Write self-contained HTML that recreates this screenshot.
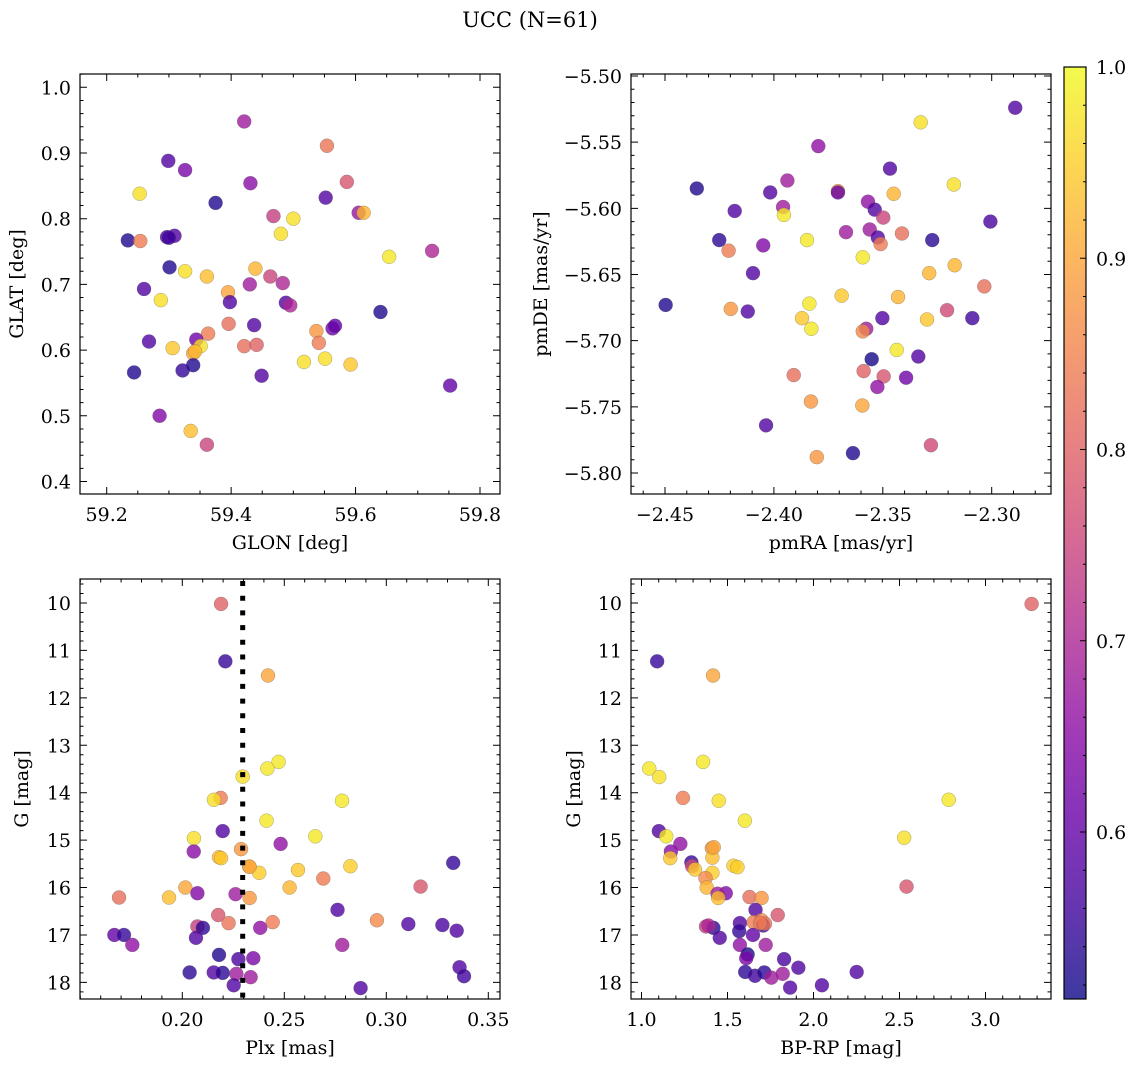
<!DOCTYPE html>
<html><head><meta charset="utf-8"><title>UCC (N=61)</title>
<style>
html,body{margin:0;padding:0;background:#fff;}
svg{display:block;font-family:"DejaVu Serif","Liberation Serif",serif;}
</style></head>
<body>
<svg id="chart" width="1136" height="1067" viewBox="0 0 1136 1067" xmlns="http://www.w3.org/2000/svg">
<text x="530" y="27" font-size="21" text-anchor="middle" fill="#000">UCC (N=61)</text>
</svg>
<script>
// ---- data: panel 1 (GLON vs GLAT)
const glon = [59.421,59.554,59.299,59.326,59.431,59.586,59.253,59.375,59.552,59.605,59.613,59.468,59.500,59.480,59.234,59.254,59.297,59.309,59.654,59.723,59.301,59.326,59.361,59.439,59.463,59.430,59.483,59.260,59.287,59.395,59.398,59.488,59.495,59.640,59.396,59.437,59.537,59.541,59.563,59.567,59.268,59.363,59.344,59.306,59.339,59.351,59.421,59.441,59.517,59.551,59.592,59.244,59.322,59.339,59.449,59.752,59.285,59.335,59.361,59.300,59.342];
const glat = [0.948,0.911,0.888,0.874,0.854,0.856,0.838,0.824,0.832,0.809,0.809,0.804,0.800,0.777,0.767,0.766,0.772,0.774,0.742,0.751,0.726,0.720,0.712,0.724,0.712,0.700,0.702,0.693,0.676,0.688,0.673,0.672,0.668,0.658,0.640,0.638,0.629,0.611,0.633,0.637,0.613,0.625,0.616,0.603,0.595,0.606,0.606,0.608,0.582,0.587,0.578,0.566,0.569,0.577,0.561,0.546,0.500,0.477,0.456,0.771,0.598];
const probTL = [.68,.83,.58,.63,.65,.78,.97,.53,.58,.67,.92,.74,.97,.97,.53,.84,.58,.58,.98,.70,.53,.97,.93,.92,.75,.68,.70,.58,.97,.90,.58,.58,.70,.53,.82,.58,.88,.84,.62,.60,.58,.84,.62,.94,.90,.97,.82,.80,.97,.97,.94,.53,.55,.53,.58,.60,.64,.93,.75,.56,.92];
// ---- data: panel 2 (pmRA vs pmDE)
const pmra = [-2.2892,-2.3326,-2.3796,-2.3467,-2.4354,-2.3938,-2.4017,-2.3706,-2.3450,-2.3174,-2.4180,-2.3958,-2.3954,-2.3568,-2.3537,-2.3498,-2.3006,-2.4251,-2.4208,-2.4049,-2.3848,-2.3669,-2.3560,-2.3523,-2.3510,-2.3412,-2.3273,-2.3592,-2.4096,-2.3287,-2.3170,-2.3034,-2.4497,-2.4198,-2.4120,-2.3837,-2.3689,-2.3430,-2.3871,-2.3828,-2.3576,-2.3592,-2.3502,-2.3297,-2.3205,-2.3089,-2.3436,-2.3551,-2.3337,-2.3909,-2.3588,-2.3496,-2.3525,-2.3393,-2.3830,-2.3594,-2.4036,-2.3803,-2.3637,-2.3279,-2.3706];
const pmde = [-5.524,-5.535,-5.553,-5.570,-5.585,-5.579,-5.588,-5.587,-5.589,-5.582,-5.602,-5.599,-5.605,-5.595,-5.601,-5.607,-5.610,-5.624,-5.632,-5.628,-5.624,-5.618,-5.616,-5.622,-5.627,-5.619,-5.624,-5.637,-5.649,-5.649,-5.643,-5.659,-5.673,-5.676,-5.678,-5.672,-5.666,-5.667,-5.683,-5.691,-5.691,-5.693,-5.683,-5.684,-5.677,-5.683,-5.707,-5.714,-5.712,-5.726,-5.723,-5.727,-5.735,-5.728,-5.746,-5.749,-5.764,-5.788,-5.785,-5.779,-5.588];
const probTR = [.58,.97,.66,.58,.53,.68,.58,.88,.92,.97,.58,.68,.98,.66,.58,.75,.57,.54,.84,.64,.98,.68,.68,.58,.84,.82,.54,.98,.58,.92,.92,.82,.53,.88,.58,.98,.94,.92,.94,.98,.68,.86,.58,.94,.76,.56,.98,.52,.58,.82,.80,.78,.66,.62,.88,.90,.58,.88,.53,.76,.60];
// ---- data: panel 3 (Plx vs G)
const plx = [0.2190,0.2211,0.2420,0.2472,0.2417,0.2296,0.2188,0.2155,0.2783,0.2413,0.2198,0.2057,0.2652,0.2482,0.2288,0.2056,0.2180,0.2190,0.2328,0.2377,0.2567,0.2824,0.3328,0.2691,0.2015,0.2526,0.3168,0.1690,0.1935,0.2074,0.2261,0.2330,0.2761,0.2176,0.2227,0.2443,0.2954,0.3108,0.3275,0.3345,0.2074,0.2101,0.2382,0.1667,0.1714,0.2067,0.1755,0.2784,0.2180,0.2275,0.2348,0.3359,0.3381,0.2036,0.2154,0.2198,0.2265,0.2335,0.2252,0.2874,0.2330];
const gmagL = [10.02,11.23,11.53,13.35,13.49,13.66,14.11,14.15,14.17,14.59,14.81,14.96,14.92,15.08,15.19,15.24,15.36,15.38,15.56,15.69,15.63,15.55,15.48,15.81,16.00,16.00,15.98,16.21,16.21,16.12,16.14,16.22,16.47,16.58,16.75,16.73,16.69,16.77,16.79,16.91,16.82,16.85,16.85,17.00,17.00,17.06,17.21,17.21,17.42,17.51,17.49,17.68,17.87,17.79,17.79,17.80,17.82,17.89,18.06,18.12,15.56];
const probBL = [.80,.55,.90,.98,.98,.97,.84,.97,.98,.98,.58,.97,.98,.66,.88,.65,.93,.94,.92,.95,.94,.95,.55,.84,.90,.92,.78,.82,.93,.64,.68,.88,.58,.78,.83,.84,.86,.58,.57,.58,.74,.54,.66,.60,.55,.58,.66,.68,.53,.57,.63,.58,.56,.54,.58,.54,.68,.68,.58,.58,.90];
const plxLine = [0.2296];
// ---- data: panel 4 (BP-RP vs G)
const bprp = [3.268,1.091,1.416,1.358,1.045,1.103,1.241,1.449,2.786,1.601,1.101,1.144,2.527,1.226,1.409,1.171,1.412,1.167,1.290,1.294,1.311,1.535,1.558,1.412,1.372,1.379,2.541,1.490,1.442,1.446,1.628,1.698,1.663,1.792,1.572,1.652,1.698,1.708,1.718,1.375,1.418,1.389,1.568,1.455,1.648,1.572,1.722,1.617,1.609,1.829,1.912,2.251,1.603,1.660,1.714,1.755,1.821,1.864,2.049,1.690,1.420];
const gmagR = [10.02,11.23,11.53,13.35,13.49,13.67,14.11,14.17,14.15,14.59,14.81,14.92,14.95,15.08,15.17,15.24,15.37,15.38,15.47,15.55,15.62,15.54,15.57,15.69,15.80,16.00,15.98,16.12,16.13,16.22,16.20,16.22,16.47,16.58,16.75,16.73,16.69,16.80,16.76,16.82,16.85,16.80,16.92,17.06,17.00,17.21,17.21,17.41,17.49,17.51,17.69,17.78,17.78,17.86,17.79,17.90,17.82,18.11,18.06,16.75,15.15];
const probBR = [.80,.55,.90,.98,.98,.97,.84,.97,.98,.98,.58,.98,.97,.66,.88,.65,.93,.94,.55,.76,.94,.95,.95,.95,.86,.92,.78,.64,.68,.93,.82,.88,.58,.78,.58,.84,.86,.57,.83,.74,.54,.70,.55,.58,.60,.66,.68,.53,.63,.57,.58,.58,.54,.56,.54,.68,.68,.58,.58,.84,.90];
// ---- tick labels
const ticksGlon = [59.2,59.4,59.6,59.8];
const ticksGlat = [0.4,0.5,0.6,0.7,0.8,0.9,1.0];
const ticksPmra = [-2.45,-2.40,-2.35,-2.30];
const ticksPmde = [-5.50,-5.55,-5.60,-5.65,-5.70,-5.75,-5.80];
const ticksPlx = [0.20,0.25,0.30,0.35];
const ticksG = [10,11,12,13,14,15,16,17,18];
const ticksBprp = [1.0,1.5,2.0,2.5,3.0];
const ticksCbar = [0.6,0.7,0.8,0.9,1.0];
const cMin = 0.5127, cMax = 1.0;

const FS = 19;
const NS = "http://www.w3.org/2000/svg";
const svg = document.getElementById('chart');
function el(tag, attrs, parent){
  const e = document.createElementNS(NS, tag);
  for (const k in attrs) e.setAttribute(k, attrs[k]);
  (parent||svg).appendChild(e);
  return e;
}
const plasma = [[13,8,135],[65,4,157],[106,0,168],[143,13,164],[177,42,144],[204,71,120],[225,100,98],[242,132,75],[252,166,54],[252,206,37],[240,249,33]];
function cmap(v){
  let t = (v - cMin)/(cMax - cMin); t = Math.max(0, Math.min(1, t));
  const f = t*10, i = Math.min(9, Math.floor(f)), r = f - i;
  const a = plasma[i], b = plasma[i+1];
  return 'rgb(' + [0,1,2].map(k => Math.round(a[k] + (b[k]-a[k])*r)).join(',') + ')';
}
function lin(d0, d1, p0, p1){ return v => p0 + (v - d0)*(p1 - p0)/(d1 - d0); }
function fmt(v, dec){ return (v < 0 ? '\u2212' : '') + Math.abs(v).toFixed(dec); }

function panel(name, x0, y0, sx, sy, xt, xdec, xminor, yt, ydec, yminor, xl, yl, xs, ys, ps){
  const g = el('g', {});
  
  
  const W = 420, H = 420;
  const xA = sx.inv(x0), xB = sx.inv(x0+W);
  const yA = sy.inv(y0+H), yB = sy.inv(y0);
  const pts = el('g', {}, g);
  
  
  for (let i = 0; i < xs.length; i++){
    const c = el('circle', {cx: sx(xs[i]).toFixed(2), cy: sy(ys[i]).toFixed(2), r: 7, fill: cmap(ps[i]), 'fill-opacity': 0.8, stroke: '#555', 'stroke-opacity': 0.5, 'stroke-width': 0.5}, pts);
    
    
  }
  const fr = el('rect', {x: x0, y: y0, width: W, height: H, fill: 'none', stroke: '#000', 'stroke-width': 1.2}, g);
  
  
  let d = '';
  const lo = Math.min(xA,xB), hi = Math.max(xA,xB);
  for (let v = Math.ceil(lo/xminor - 1e-6)*xminor; v <= hi + 1e-9; v += xminor){
    const px = sx(v); const major = xt.some(t => Math.abs(t - v) < xminor/4);
    const L = major ? 7 : 3.5;
    d += `M${px},${y0+H}v${-L}M${px},${y0}v${L}`;
  }
  const ylo = Math.min(yA,yB), yhi = Math.max(yA,yB);
  for (let v = Math.ceil(ylo/yminor - 1e-6)*yminor; v <= yhi + 1e-9; v += yminor){
    const py = sy(v); const major = yt.some(t => Math.abs(t - v) < yminor/4);
    const L = major ? 7 : 3.5;
    d += `M${x0},${py}h${L}M${x0+W},${py}h${-L}`;
  }
  const tk = el('path', {d: d, stroke: '#000', 'stroke-width': 1, fill: 'none'}, g);
  
  
  xt.forEach(v => {
    const t = el('text', {x: sx(v), y: y0+H+27, 'font-size': FS, 'text-anchor': 'middle'}, g);
    t.textContent = fmt(v, xdec);
    
    
  });
  yt.forEach(v => {
    const t = el('text', {x: x0-9, y: sy(v)+7, 'font-size': FS, 'text-anchor': 'end'}, g);
    t.textContent = fmt(v, ydec);
    
    
  });
  const xlab = el('text', {x: x0+W/2, y: y0+H+55, 'font-size': FS, 'text-anchor': 'middle'}, g);
  xlab.textContent = xl;
  
  
  const ylab = el('text', {x: 0, y: 0, 'font-size': FS, 'text-anchor': 'middle', transform: `translate(${yl.lx},${y0+H/2}) rotate(-90)`}, g);
  ylab.textContent = yl.t;
  
  
  return g;
}
function scale(d0,d1,p0,p1){ const f = lin(d0,d1,p0,p1); f.inv = lin(p0,p1,d0,d1); return f; }

panel('glon-glat-panel', 80, 74, scale(59.2, 59.8, 106.7, 480), scale(1.0, 0.4, 87.3, 481.5),
  ticksGlon, 1, 0.05, ticksGlat, 1, 0.02, 'GLON [deg]', {t:'GLAT [deg]', lx: 23}, glon, glat, probTL);
panel('pm-panel', 631, 74, scale(-2.45, -2.30, 665, 991.7), scale(-5.50, -5.80, 76, 473),
  ticksPmra, 2, 0.01, ticksPmde, 2, 0.01, 'pmRA [mas/yr]', {t:'pmDE [mas/yr]', lx: 547}, pmra, pmde, probTR);
const sxPlx = scale(0.20, 0.35, 182.3, 488.3), syGL = scale(10, 18, 603, 982.4);
const p3 = panel('plx-g-panel', 80, 579, sxPlx, syGL,
  ticksPlx, 2, 0.01, ticksG, 0, 0.2, 'Plx [mas]', {t:'G [mag]', lx: 28}, plx, gmagL, probBL);
plxLine.forEach(v => {
  const ln = el('line', {x1: sxPlx(v), x2: sxPlx(v), y1: 581, y2: 1001, stroke: '#000', 'stroke-width': 5, 'stroke-dasharray': '5 9.7'}, p3);
  
  
});
panel('cmd-panel', 631, 579, scale(1.0, 3.0, 641.5, 985.5), syGL,
  ticksBprp, 1, 0.1, ticksG, 0, 0.2, 'BP-RP [mag]', {t:'G [mag]', lx: 580}, bprp, gmagR, probBR);

(function(){
  const cx = 1064, cy0 = 67, cw = 22, cy1 = 999;
  const g = el('g', {});
  
  
  const defs = el('defs', {}, g);
  const lg = el('linearGradient', {id: 'cbgrad', x1: 0, y1: 1, x2: 0, y2: 0}, defs);
  for (let k = 0; k <= 20; k++){
    const v = cMin + (cMax - cMin)*k/20;
    el('stop', {offset: (k/20), 'stop-color': cmap(v), 'stop-opacity': 0.8}, lg);
  }
  const r = el('rect', {x: cx, y: cy0, width: cw, height: cy1-cy0, fill: 'url(#cbgrad)', stroke: '#000', 'stroke-width': 1.2}, g);
  
  
  const sy = scale(1.0, 0.6, cy0, 832);
  let d = '';
  for (let v = 0.52; v <= 1.0001; v += 0.02){
    const major = ticksCbar.some(t => Math.abs(t - v) < 0.005);
    d += `M${cx+cw},${sy(v)}h${major ? -6 : -3}`;
  }
  const tk = el('path', {d: d, stroke: '#000', 'stroke-width': 1}, g);
  
  
  ticksCbar.forEach(v => {
    const t = el('text', {x: cx+cw+10, y: sy(v)+7, 'font-size': FS}, g);
    t.textContent = v.toFixed(1);
    
    
  });
})();
</script>
</body></html>
